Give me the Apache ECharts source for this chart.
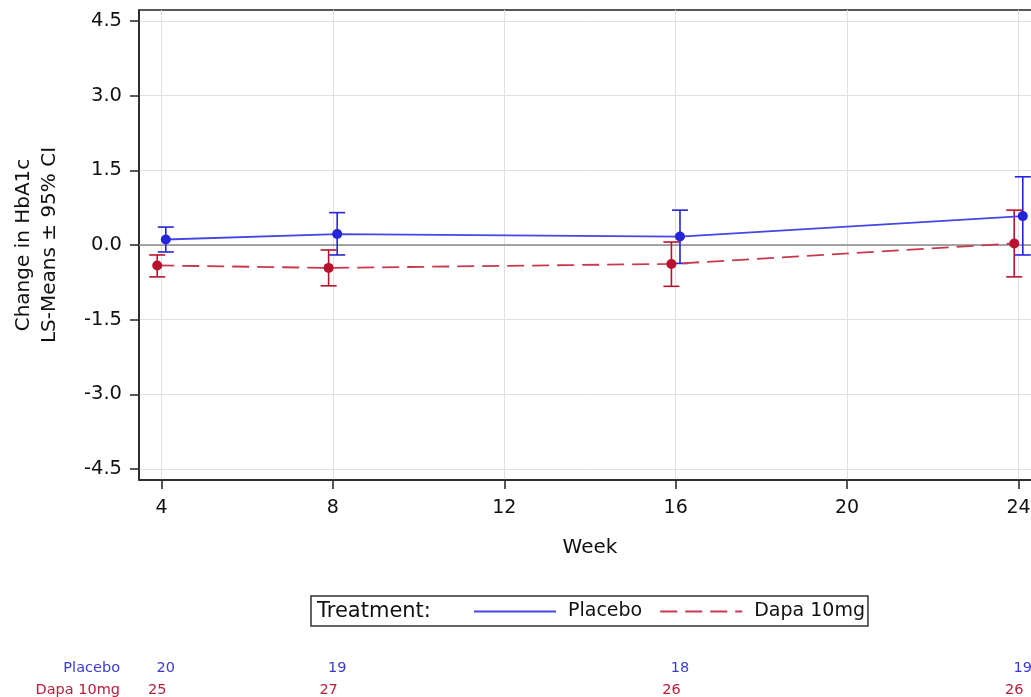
<!DOCTYPE html>
<html>
<head>
<meta charset="utf-8">
<script src="https://cdn.jsdelivr.net/npm/echarts@6/dist/echarts.min.js"></script>
<style>
html,body{margin:0;padding:0;background:#fff;}
#chart{width:1031px;height:697px;}
</style>
</head>
<body>
<div id="chart"></div>
<script>
// ---- data ----
var weeks = [4, 8, 16, 24];
var placeboMean  = [0.11, 0.22, 0.17, 0.58];
var placeboLower = [-0.14, -0.20, -0.37, -0.20];
var placeboUpper = [0.36, 0.65, 0.70, 1.37];
var dapaMean  = [-0.41, -0.46, -0.38, 0.03];
var dapaLower = [-0.64, -0.82, -0.83, -0.64];
var dapaUpper = [-0.20, -0.10, 0.06, 0.70];
var placeboN = [20, 19, 18, 19];
var dapaN    = [25, 27, 26, 26];
var xTicks = [4, 8, 12, 16, 20, 24];
var yTicks = [-4.5, -3.0, -1.5, 0.0, 1.5, 3.0, 4.5];
var groupNames = ['Placebo', 'Dapa 10mg'];
var groupShift = [0.1, -0.1]; // cluster offset (weeks) of each group

var FONT = '"DejaVu Sans", "Liberation Sans", Arial, sans-serif';
var BLUE_DOT = '#2424d8', BLUE_LINE = '#4646e2';
var RED_DOT = '#b8122e', RED_LINE = '#c63a50';
var BLUE_TXT = '#3a3ad0', RED_TXT = '#b5223c';

function pts(means, shift) {
  return weeks.map(function (w, i) { return [w + shift, means[i]]; });
}
function bars(lower, upper, shift) {
  return weeks.map(function (w, i) { return [w + shift, lower[i], upper[i]]; });
}
function errRender(color) {
  return function (params, api) {
    var x = api.value(0);
    var lo = api.coord([x, api.value(1)]);
    var hi = api.coord([x, api.value(2)]);
    var cap = 8;
    var st = { stroke: color, lineWidth: 1.6 };
    return {
      type: 'group',
      children: [
        { type: 'line', shape: { x1: lo[0], y1: lo[1], x2: hi[0], y2: hi[1] }, style: st },
        { type: 'line', shape: { x1: lo[0] - cap, y1: lo[1], x2: lo[0] + cap, y2: lo[1] }, style: st },
        { type: 'line', shape: { x1: hi[0] - cap, y1: hi[1], x2: hi[0] + cap, y2: hi[1] }, style: st }
      ]
    };
  };
}
function countData(ns, row, shift) {
  return weeks.map(function (w, i) { return [w + shift, row, ns[i]]; });
}
function countRender(color) {
  return function (params, api) {
    var p = api.coord([api.value(0), api.value(1)]);
    return {
      type: 'text', x: p[0], y: p[1],
      style: { text: String(api.value(2)), fill: color, font: '14.5px ' + FONT, align: 'center', verticalAlign: 'middle' }
    };
  };
}

var chart = echarts.init(document.getElementById('chart'), null, { renderer: 'canvas' });
var XMIN = 3.475, XMAX = 24.525;
var option = {
  animation: false,
  backgroundColor: '#fff',
  title: {
    text: 'Treatment:', left: 313, top: 598, padding: [3, 4],
    textStyle: { fontFamily: FONT, fontSize: 21, fontWeight: 'normal', color: '#111' }
  },
  legend: {
    data: groupNames,
    left: 311, top: 596,
    padding: [6, 3, 5, 162],
    itemGap: 17, itemWidth: 82, itemHeight: 14,
    borderColor: '#333', borderWidth: 1.5,
    selectedMode: false,
    itemStyle: { opacity: 0 },
    textStyle: { fontFamily: FONT, fontSize: 19, color: '#111', padding: [0, 0, 0, 7] }
  },
  grid: [
    { left: 139, top: 10, width: 902, height: 470, show: true, borderColor: '#222', borderWidth: 1.5,
      backgroundColor: 'transparent', outerBoundsMode: 'none', containLabel: false },
    { left: 139, top: 657, width: 902, height: 44, outerBoundsMode: 'none', containLabel: false }
  ],
  xAxis: [
    {
      type: 'value', gridIndex: 0, min: XMIN, max: XMAX,
      name: 'Week', nameLocation: 'middle', nameGap: 58,
      nameTextStyle: { fontFamily: FONT, fontSize: 20, color: '#111', verticalAlign: 'top' },
      axisLine: { show: true, onZero: false, lineStyle: { color: '#222', width: 1.5 } },
      axisTick: { show: true, length: 9, customValues: xTicks, lineStyle: { color: '#222', width: 1.5 } },
      axisLabel: { customValues: xTicks, margin: 19, fontFamily: FONT, fontSize: 19, color: '#111' },
      splitLine: { show: true, lineStyle: { color: '#e0e0e0', width: 1 } }
    },
    {
      type: 'value', gridIndex: 1, min: XMIN, max: XMAX, show: false
    }
  ],
  yAxis: [
    {
      type: 'value', gridIndex: 0, min: -4.72, max: 4.72,
      name: 'Change in HbA1c\nLS-Means \u00b1 95% CI', nameLocation: 'middle', nameGap: 76,
      nameTextStyle: { fontFamily: FONT, fontSize: 20, lineHeight: 26, color: '#111' },
      axisLine: { show: true, onZero: false, lineStyle: { color: '#222', width: 1.5 } },
      axisTick: { show: true, length: 9, customValues: yTicks, lineStyle: { color: '#222', width: 1.5 } },
      axisLabel: { customValues: yTicks, margin: 17, fontFamily: FONT, fontSize: 19.5, color: '#111',
        formatter: function (v) { return Number(v).toFixed(1); } },
      splitLine: { show: true, lineStyle: { color: '#e0e0e0', width: 1 } }
    },
    {
      type: 'category', gridIndex: 1, data: groupNames, inverse: true,
      axisLine: { show: false }, axisTick: { show: false }, splitLine: { show: false },
      axisLabel: { margin: 19, fontFamily: FONT, fontSize: 14.5,
        color: function (v, i) { return v === 'Placebo' ? BLUE_TXT : RED_TXT; } }
    }
  ],
  series: [
    {
      name: 'Placebo', type: 'line', xAxisIndex: 0, yAxisIndex: 0,
      data: pts(placeboMean, groupShift[0]),
      symbol: 'circle', symbolSize: 10, z: 4,
      itemStyle: { color: BLUE_DOT },
      lineStyle: { color: BLUE_LINE, width: 1.8, type: 'solid' },
      emphasis: { disabled: true },
      markLine: {
        silent: true, symbol: 'none', z: 1,
        label: { show: false },
        lineStyle: { color: '#8a8a8a', width: 1.5, type: 'solid' },
        data: [{ yAxis: 0 }]
      }
    },
    {
      name: 'Dapa 10mg', type: 'line', xAxisIndex: 0, yAxisIndex: 0,
      data: pts(dapaMean, groupShift[1]),
      symbol: 'circle', symbolSize: 10, z: 4,
      itemStyle: { color: RED_DOT },
      lineStyle: { color: RED_LINE, width: 1.8, type: [17, 8] },
      emphasis: { disabled: true }
    },
    {
      name: 'ci-placebo', type: 'custom', xAxisIndex: 0, yAxisIndex: 0, z: 3,
      data: bars(placeboLower, placeboUpper, groupShift[0]),
      renderItem: errRender(BLUE_DOT), silent: true
    },
    {
      name: 'ci-dapa', type: 'custom', xAxisIndex: 0, yAxisIndex: 0, z: 3,
      data: bars(dapaLower, dapaUpper, groupShift[1]),
      renderItem: errRender(RED_DOT), silent: true
    },
    {
      name: 'n-placebo', type: 'custom', xAxisIndex: 1, yAxisIndex: 1,
      data: countData(placeboN, groupNames[0], groupShift[0]),
      renderItem: countRender(BLUE_TXT), silent: true
    },
    {
      name: 'n-dapa', type: 'custom', xAxisIndex: 1, yAxisIndex: 1,
      data: countData(dapaN, groupNames[1], groupShift[1]),
      renderItem: countRender(RED_TXT), silent: true
    }
  ]
};
chart.setOption(option);
</script>
</body>
</html>
